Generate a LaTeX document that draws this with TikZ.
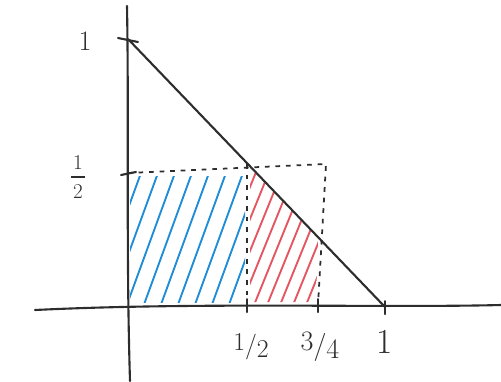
\documentclass[tikz,border=0pt]{standalone}
\usepackage{amsmath}

\definecolor{penblue}{RGB}{30,140,215}
\definecolor{penred}{RGB}{228,85,95}
\definecolor{ink}{RGB}{45,45,45}

\newcommand{\slashfrac}[2]{\raisebox{0.3ex}{#1}/\raisebox{-0.3ex}{#2}}

\tikzset{
  axis/.style={ink, line width=1.8pt, line cap=round},
  guide/.style={ink, line width=1.5pt, dash pattern=on 4pt off 5pt},
  hatchblue/.style={penblue, line width=1.6pt, line cap=round},
  hatchred/.style={penred, line width=1.6pt, line cap=round},
  lbl/.style={ink, inner sep=0pt, font=\fontsize{24}{28}\selectfont}
}

\begin{document}
\begin{tikzpicture}[x=0.03cm, y=-0.03cm]
        \useasboundingbox (0,0) rectangle (501,381);

        % points
        \coordinate (O) at (128,305);
        \coordinate (xhalf) at (247,305);
        \coordinate (xthree) at (318,305);
        \coordinate (xone) at (385,307);
        \coordinate (yone) at (128,39);
        \coordinate (yhalf) at (128,173);
        \coordinate (top) at (326,164);
        \coordinate (cuthalf) at (247,164);
        \coordinate (cutthree) at (318,239);

        % blue hatching
        \begin{scope}
            \clip (130,176) rectangle (245,302);
            \foreach \x in {40,57,...,250} {
                \draw[hatchblue] (\x,310) -- ++(62,-170);
            }
        \end{scope}

        % red hatching
        \begin{scope}
            \clip (250,302) -- (250,166) -- (cutthree) -- (316,302) -- cycle;
            \foreach \x in {200,213,...,330} {
                \draw[hatchred] (\x,310) -- ++(65,-160);
            }
        \end{scope}

        % dashed box
        \draw[guide] (yhalf) -- (top) -- (xthree);
        \draw[guide] (cuthalf) -- (xhalf);

        % axes
        \draw[axis] (35,310) .. controls (200,302) and (380,308) .. (501,305);
        \draw[axis] (127,6) .. controls (129,120) and (126,250) .. (130,381);

        % line x + y = 1
        \draw[axis] (yone) -- (xone);

        % ticks
        \draw[axis] (118,38) -- (138,42);
        \draw[axis] (121,175) -- (136,172);
        \foreach \x in {xhalf,xthree,xone} {
            \draw[axis] ([yshift=-6]\x) -- ([yshift=5]\x);
        }

        % labels
        \node[lbl] (l1) at (85,41) {1};
        \node[lbl, font=\fontsize{18}{20}\selectfont] (lhnum) at (78,163) {1};
        \node[lbl, font=\fontsize{18}{20}\selectfont] (lhden) at (78,192) {2};
        \draw[ink, line width=1.3pt] (71,177) -- (85,177);
        \node[lbl, font=\fontsize{22}{26}\selectfont] (bh) at (251,347) {\slashfrac{1}{2}};
        \node[lbl, font=\fontsize{24}{28}\selectfont] (bt) at (320,347) {\slashfrac{3}{4}};
        \node[lbl, font=\fontsize{30}{34}\selectfont] (b1) at (385,342) {1};
    \end{tikzpicture}
\end{document}
